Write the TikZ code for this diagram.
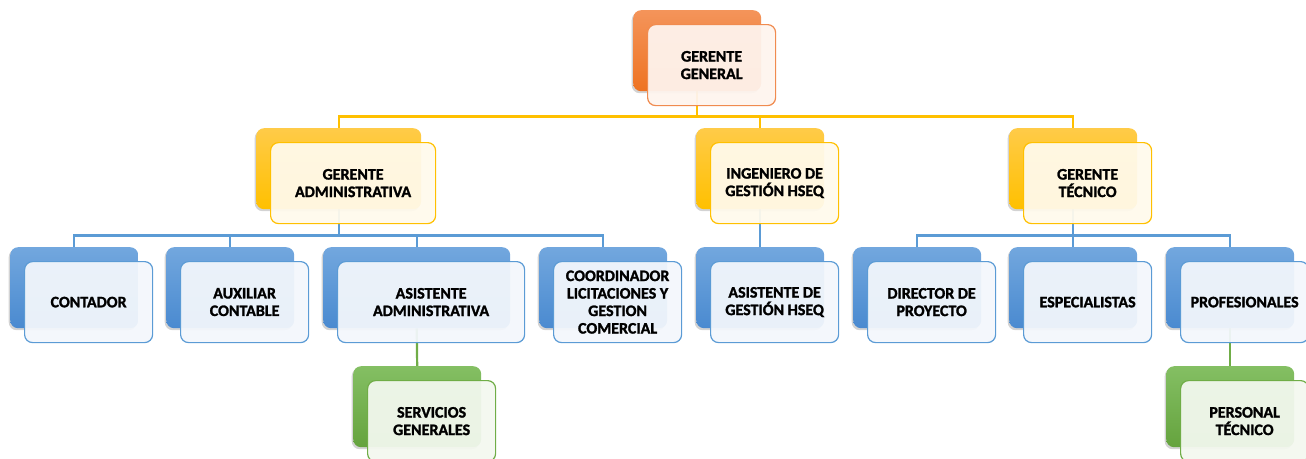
\documentclass[tikz,border=0pt]{standalone}
\usepackage{fontspec}
\setmainfont{Carlito}[BoldFont={Carlito Bold}, BoldFeatures={FakeBold=1.6}]
\usetikzlibrary{shadows}
\definecolor{orTop}{HTML}{F4945A}
\definecolor{orBot}{HTML}{EE7322}
\definecolor{orFront}{HTML}{FEF4EE}
\definecolor{orLine}{HTML}{F08B4F}
\definecolor{yeTop}{HTML}{FFCB48}
\definecolor{yeBot}{HTML}{FFC000}
\definecolor{yeFront}{HTML}{FFFAEC}
\definecolor{yeLine}{HTML}{FFC000}
\definecolor{blTop}{HTML}{72A7DE}
\definecolor{blBot}{HTML}{4A8AD0}
\definecolor{blFront}{HTML}{F3F7FC}
\definecolor{blLine}{HTML}{5B9BD5}
\definecolor{grTop}{HTML}{84BF63}
\definecolor{grBot}{HTML}{65A33E}
\definecolor{grFront}{HTML}{F3F8EF}
\definecolor{grLine}{HTML}{70AD47}
\tikzset{
  backbox/.style={rounded corners=8pt, minimum height=81pt, inner sep=0pt,
    drop shadow={opacity=0.35, shadow xshift=-1.5pt, shadow yshift=-2pt}},
  frontbox/.style={rounded corners=8pt, minimum height=81pt, inner sep=2pt,
    line width=1.2pt, fill opacity=0.94, text opacity=1, align=center,
    font=\fontsize{16}{17.5}\selectfont\bfseries},
  orback/.style={top color=orTop, bottom color=orBot},
  orfront/.style={fill=orFront, draw=orLine},
  yeback/.style={top color=yeTop, bottom color=yeBot},
  yefront/.style={fill=yeFront, draw=yeLine},
  blback/.style={top color=blTop, bottom color=blBot},
  blfront/.style={fill=blFront, draw=blLine},
  grback/.style={top color=grTop, bottom color=grBot},
  grfront/.style={fill=grFront, draw=grLine},
  conn/.style={line width=2.2pt},
  anchorbox/.style={minimum height=81pt, inner sep=0pt, anchor=north west},
}
\newcommand\orgbox[6]{%
  \node[backbox, #5back, minimum width=#4pt, anchor=north west] (#1) at (#2,#3) {};
  \node[frontbox, #5front, minimum width=#4pt, anchor=north west] (#1f)
    at ([xshift=14pt,yshift=-14pt]#1.north west) {#6};
}
\begin{document}
\begin{tikzpicture}[x=1pt,y=-1pt]
\useasboundingbox (0,0) rectangle (1306,458);
% placement of back boxes (used for connectors)
\node[anchorbox, minimum width=128pt] (pgg) at (633,10) {};
\node[anchorbox, minimum width=165pt] (pga) at (256,128) {};
\node[anchorbox, minimum width=128pt] (pih) at (696,128) {};
\node[anchorbox, minimum width=128pt] (pgt) at (1009,128) {};
\node[anchorbox, minimum width=128pt] (pco) at (10,247) {};
\node[anchorbox, minimum width=128pt] (pau) at (166,247) {};
\node[anchorbox, minimum width=187pt] (pas) at (323,247) {};
\node[anchorbox, minimum width=128pt] (pcl) at (539,247) {};
\node[anchorbox, minimum width=128pt] (pah) at (696,247) {};
\node[anchorbox, minimum width=128pt] (pdp) at (853,247) {};
\node[anchorbox, minimum width=128pt] (pes) at (1009,247) {};
\node[anchorbox, minimum width=128pt] (ppr) at (1166,247) {};
\node[anchorbox, minimum width=128pt] (psg) at (353,366) {};
\node[anchorbox, minimum width=128pt] (ppt) at (1166,366) {};
% level 1 connectors
\foreach \c in {pga,pih,pgt}
  \draw[conn, yeLine] (pgg.south) -- ++(0,25) -| (\c.north);
% level 2 connectors
\foreach \c in {pco,pau,pas,pcl}
  \draw[conn, blLine] (pga.south) -- ++(0,26) -| (\c.north);
\draw[conn, blLine] (pih.south) -- (pah.north);
\foreach \c in {pdp,pes,ppr}
  \draw[conn, blLine] (pgt.south) -- ++(0,26) -| (\c.north);
% level 3 connectors
\draw[conn, grLine] (pas.south) -- (psg.north);
\draw[conn, grLine] (ppr.south) -- (ppt.north);
% boxes
\begin{scope}
\clip (0,0) rectangle (1306,458);
\orgbox{gg}{633}{10}{128}{or}{GERENTE\\GENERAL}
\orgbox{ga}{256}{128}{165}{ye}{GERENTE\\ADMINISTRATIVA}
\orgbox{ih}{696}{128}{128}{ye}{INGENIERO DE\\GESTIÓN HSEQ}
\orgbox{gt}{1009}{128}{128}{ye}{GERENTE\\TÉCNICO}
\orgbox{co}{10}{247}{128}{bl}{CONTADOR}
\orgbox{au}{166}{247}{128}{bl}{AUXILIAR\\CONTABLE}
\orgbox{as}{323}{247}{187}{bl}{ASISTENTE\\ADMINISTRATIVA}
\orgbox{cl}{539}{247}{128}{bl}{COORDINADOR\\LICITACIONES Y\\GESTION\\COMERCIAL}
\orgbox{ah}{696}{247}{128}{bl}{ASISTENTE DE\\GESTIÓN HSEQ}
\orgbox{dp}{853}{247}{128}{bl}{DIRECTOR DE\\PROYECTO}
\orgbox{es}{1009}{247}{128}{bl}{ESPECIALISTAS}
\orgbox{pr}{1166}{247}{128}{bl}{PROFESIONALES}
\orgbox{sg}{353}{366}{128}{gr}{SERVICIOS\\GENERALES}
\orgbox{pt}{1166}{366}{128}{gr}{PERSONAL\\TÉCNICO}
\end{scope}
\end{tikzpicture}
\end{document}
